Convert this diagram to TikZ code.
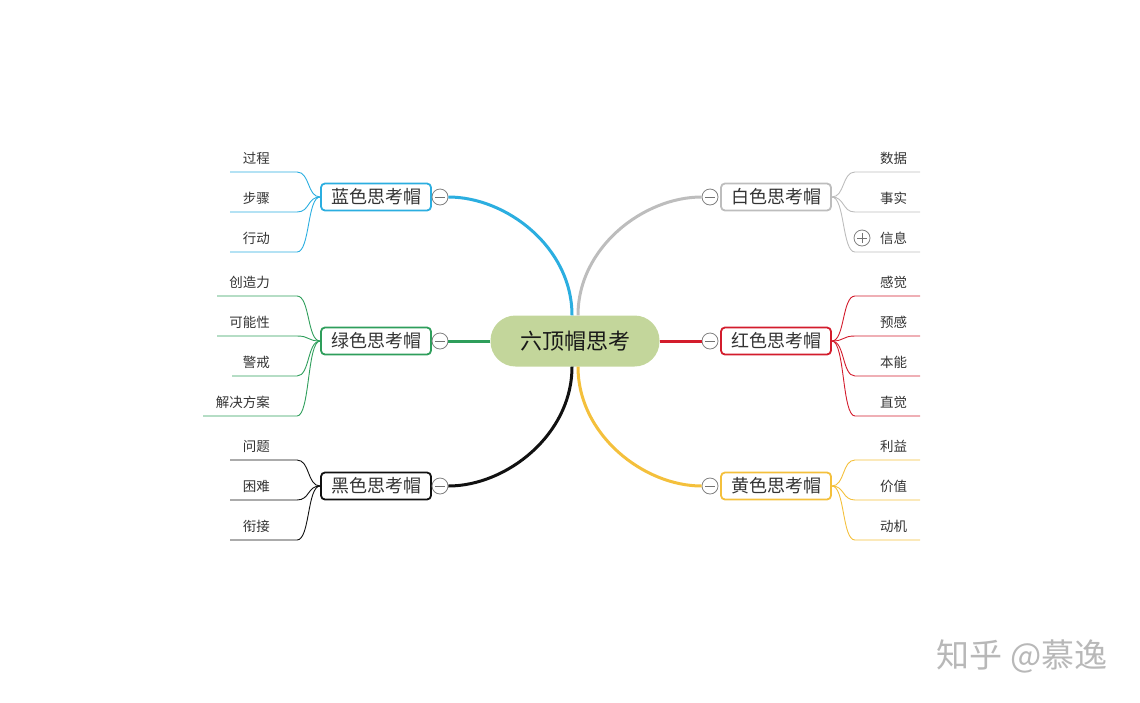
\documentclass[tikz,border=0pt]{standalone}
\usepackage{fontspec}
\setmainfont{Noto Sans CJK SC}
\usetikzlibrary{calc}
\definecolor{hatblue}{HTML}{2BAEE0}
\definecolor{hatwhite}{HTML}{BDBDBD}
\definecolor{hatgreen}{HTML}{2E9E5B}
\definecolor{hatred}{HTML}{D31C2C}
\definecolor{hatblack}{HTML}{111111}
\definecolor{hatyellow}{HTML}{F4C03C}
\definecolor{hubfill}{HTML}{C3D69B}
\definecolor{leaftext}{HTML}{333333}
\tikzset{
  hub/.style={rounded corners=25pt, fill=hubfill, minimum width=169pt, minimum height=51pt,
    font=\fontsize{22}{24}\selectfont, text=black!90},
  hat/.style={draw=#1, line width=1.8pt, rounded corners=4pt, fill=white, minimum width=110pt,
    minimum height=27pt, inner sep=0pt, font=\fontsize{18}{20}\selectfont, text=black!80},
  tog/.style={circle, draw=black!50, fill=white, line width=0.8pt, minimum size=16pt, inner sep=0pt,
    path picture={\draw[black!55, line width=0.8pt] ([xshift=-5pt]path picture bounding box.center) -- ([xshift=5pt]path picture bounding box.center);}},
  plustog/.style={tog, path picture={\draw[black!55, line width=0.8pt]
      ([xshift=-5pt]path picture bounding box.center) -- ([xshift=5pt]path picture bounding box.center)
      ([yshift=-5pt]path picture bounding box.center) -- ([yshift=5pt]path picture bounding box.center);}},
  leaf/.style={inner sep=0pt, font=\fontsize{13.5}{15}\selectfont, text=leaftext},
  mainline/.style={line width=3pt},
  leafline/.style={line width=0.9pt}
}

\begin{document}
\begin{tikzpicture}[x=1pt, y=-1pt]
  \useasboundingbox (0,0) rectangle (1140,702);

  % hub and hats
  \node[hub] (center) at (575,341) {六顶帽思考};
  \node[hat=hatblue] (blue) at (376,197) {蓝色思考帽};
  \node[hat=hatgreen] (green) at (376,341) {绿色思考帽};
  \node[hat=hatblack] (black) at (376,486) {黑色思考帽};
  \node[hat=hatwhite] (white) at (776,197) {白色思考帽};
  \node[hat=hatred] (red) at (776,341) {红色思考帽};
  \node[hat=hatyellow] (yellow) at (776,486) {黄色思考帽};

  \node[tog] (bluetog) at (440,197) {};
  \node[tog] (greentog) at (440,341) {};
  \node[tog] (blacktog) at (440,486) {};
  \node[tog] (whitetog) at (710,197) {};
  \node[tog] (redtog) at (710,341) {};
  \node[tog] (yellowtog) at (710,486) {};

  % main branches
  \draw[hatblue, mainline] ([xshift=-3pt]center.north) .. controls +(0,-68) and +(58,0) .. (bluetog.east);
  \draw[hatwhite, mainline] ([xshift=3pt]center.north) .. controls +(0,-68) and +(-58,0) .. (whitetog.west);
  \draw[hatblack, mainline] ([xshift=-3pt]center.south) .. controls +(0,68) and +(58,0) .. (blacktog.east);
  \draw[hatyellow, mainline] ([xshift=3pt]center.south) .. controls +(0,68) and +(-58,0) .. (yellowtog.west);
  \draw[hatgreen, mainline] (center.west) -- (greentog.east);
  \draw[hatred, mainline] (center.east) -- (redtog.west);

  % left leaves
  \foreach \lab/\y/\xl [count=\i] in {过程/172/230, 步骤/212/230, 行动/252/230} {
    \coordinate (bk\i) at (297,\y);
    \coordinate (bf\i) at (\xl,\y);
    \node[leaf, anchor=east] (bl\i) at (270,\y-14) {\lab};
    \draw[hatblue, leafline] (blue.west) .. controls +(-13,0) and +(13,0) .. (bk\i) -- (bf\i);
  }
  \foreach \lab/\y/\xl [count=\i] in {创造力/296/217, 可能性/336/217, 警戒/376/232, 解决方案/416/203} {
    \coordinate (gk\i) at (297,\y);
    \coordinate (gf\i) at (\xl,\y);
    \node[leaf, anchor=east] (gl\i) at (270,\y-14) {\lab};
    \draw[hatgreen, leafline] (green.west) .. controls +(-13,0) and +(13,0) .. (gk\i) -- (gf\i);
  }
  \foreach \lab/\y/\xl [count=\i] in {问题/460/230, 困难/500/230, 衔接/540/230} {
    \coordinate (kk\i) at (297,\y);
    \coordinate (kf\i) at (\xl,\y);
    \node[leaf, anchor=east] (kl\i) at (270,\y-14) {\lab};
    \draw[hatblack, leafline] (black.west) .. controls +(-13,0) and +(13,0) .. (kk\i) -- (kf\i);
  }

  % right leaves
  \foreach \lab/\y [count=\i] in {数据/172, 事实/212, 信息/252} {
    \coordinate (wk\i) at (855,\y);
    \coordinate (wf\i) at (920,\y);
    \node[leaf, anchor=west] (wl\i) at (880,\y-14) {\lab};
    \draw[hatwhite, leafline] (white.east) .. controls +(13,0) and +(-13,0) .. (wk\i) -- (wf\i);
  }
  \node[plustog] (infotog) at (862,238) {};
  \foreach \lab/\y [count=\i] in {感觉/296, 预感/336, 本能/376, 直觉/416} {
    \coordinate (rk\i) at (855,\y);
    \coordinate (rf\i) at (920,\y);
    \node[leaf, anchor=west] (rl\i) at (880,\y-14) {\lab};
    \draw[hatred, leafline] (red.east) .. controls +(13,0) and +(-13,0) .. (rk\i) -- (rf\i);
  }
  \foreach \lab/\y [count=\i] in {利益/460, 价值/500, 动机/540} {
    \coordinate (yk\i) at (855,\y);
    \coordinate (yf\i) at (920,\y);
    \node[leaf, anchor=west] (yl\i) at (880,\y-14) {\lab};
    \draw[hatyellow, leafline] (yellow.east) .. controls +(13,0) and +(-13,0) .. (yk\i) -- (yf\i);
  }

  % watermark
  \node[font=\fontsize{33}{35}\selectfont, text=black!28] (mark) at (1022,656) {知乎 @慕逸};
\end{tikzpicture}
\end{document}
